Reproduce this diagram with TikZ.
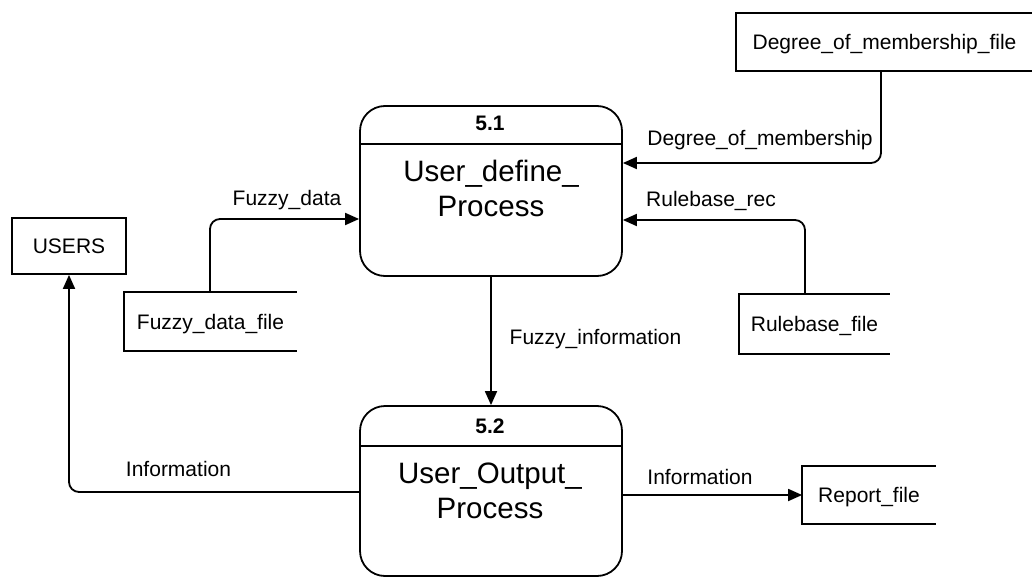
\documentclass[tikz,border=0pt]{standalone}
\usepackage{fontspec}
\setmainfont{Liberation Sans}
\usetikzlibrary{arrows.meta}
\begin{document}
\begin{tikzpicture}[x=1pt,y=-1pt,
  line width=1.8pt,
  lbl/.style={font=\fontsize{21}{25}\selectfont, inner sep=0pt, anchor=base},
  big/.style={font=\fontsize{29.5}{34}\selectfont, inner sep=0pt, anchor=base},
  num/.style={font=\bfseries\fontsize{21}{25}\selectfont, inner sep=0pt, anchor=base},
  proc/.style={draw, rounded corners=25pt, minimum width=262pt, minimum height=170pt, inner sep=0pt},
  store/.style={font=\fontsize{21}{25}\selectfont, inner sep=0pt, text height=15pt, text depth=0pt},
  flow/.style={-{Triangle[length=14pt,width=12pt]}, rounded corners=10pt},
]
\useasboundingbox (0,0) rectangle (1032,577);

% processes
\node[proc] (p1) at (491,191) {};
\coordinate (d1) at (0,144);
\draw (p1.west |- d1) -- (p1.east |- d1);
\node[num] (n1) at (490,131) {5.1};
\node[big] (t1a) at (491,182) {User\_define\_};
\node[big] (t1b) at (491,217) {Process};

\node[proc] (p2) at (491,491) {};
\coordinate (d2) at (0,446);
\draw (p2.west |- d2) -- (p2.east |- d2);
\node[num] (n2) at (490,433) {5.2};
\node[big] (t2a) at (490,483) {User\_Output\_};
\node[big] (t2b) at (490,518) {Process};

% external entity
\node[store, draw, minimum width=114pt, minimum height=56pt] (users) at (69,246) {USERS};

% data stores (open on the right)
\node[store, minimum width=171pt, minimum height=57pt] (fdf) at (210.5,321.5) {Fuzzy\_data\_file};
\draw (fdf.north east) -- (fdf.north west) -- (fdf.south west) -- (fdf.south east);
\node[store, minimum width=149pt, minimum height=58pt] (rbf) at (814.5,324) {Rulebase\_file};
\draw (rbf.north east) -- (rbf.north west) -- (rbf.south west) -- (rbf.south east);
\node[store, minimum width=295pt, minimum height=56pt] (dmf) at (884.5,42) {Degree\_of\_membership\_file};
\draw (dmf.north east) -- (dmf.north west) -- (dmf.south west) -- (dmf.south east);
\node[store, minimum width=132pt, minimum height=56pt] (rpt) at (869,495) {Report\_file};
\draw (rpt.north east) -- (rpt.north west) -- (rpt.south west) -- (rpt.south east);

% flows
\coordinate (c1) at (210,219);
\draw[flow] (c1 |- fdf.north) -- (c1) -- (c1 -| p1.west);
\coordinate (c2) at (881,163);
\draw[flow] (c2 |- dmf.south) -- (c2) -- (c2 -| p1.east);
\coordinate (c3) at (805,220);
\draw[flow] (c3 |- rbf.north) -- (c3) -- (c3 -| p1.east);
\draw[flow] (p1.south) -- (p2.north);
\coordinate (c4) at (69,492);
\draw[flow] (c4 -| p2.west) -- (c4) -- (c4 |- users.south);
\draw[flow] (p2.east |- rpt.west) -- (rpt.west);

% flow labels
\node[lbl] (l1) at (287,206) {Fuzzy\_data};
\node[lbl] (l2) at (760,146) {Degree\_of\_membership};
\node[lbl] (l3) at (711,207) {Rulebase\_rec};
\node[lbl] (l4) at (595.5,344) {Fuzzy\_information};
\node[lbl] (l5) at (178.5,476) {Information};
\node[lbl] (l6) at (700,484) {Information};
\end{tikzpicture}
\end{document}
